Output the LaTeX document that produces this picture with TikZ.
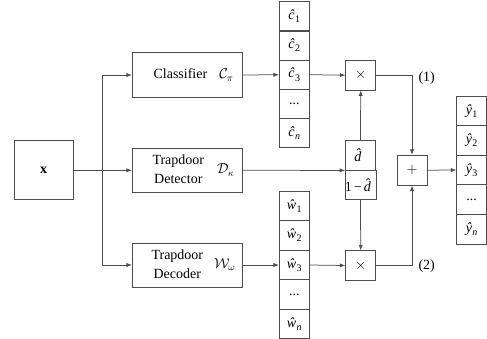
\documentclass[tikz,border=0pt]{standalone}
\usepackage{fontspec}
\setmainfont{Liberation Serif}
\usetikzlibrary{arrows.meta,positioning,calc}
\newcommand{\hv}[2]{\textit{#1}\kern0.3pt\raisebox{-3.2pt}{\fontsize{10}{10}\selectfont #2}}
\newcommand{\twol}[2]{\begin{tabular}{@{}c@{}}#1\\#2\end{tabular}}
\begin{document}
\begin{tikzpicture}[x=1pt,y=1pt,
  box/.style={draw=black!70, line width=0.75pt, inner sep=0pt},
  cell/.style={box, minimum width=30pt, minimum height=29.5pt},
  arr/.style={draw=black!70, line width=0.75pt, -{Latex[length=5.5pt,width=4.2pt]}},
  font=\fontsize{14}{19}\selectfont]
\useasboundingbox (0,0) rectangle (487,-338);
% input
\node[box, minimum width=59pt, minimum height=59pt] (xin) at (43.7,-170.3) {\textbf{x}};
% processing boxes
\node[box, minimum width=110.4pt, minimum height=44.6pt] (cls) at (187.5,-75)
  {\hspace{12pt}Classifier\hspace{12pt}$\mathcal{C}_\pi$};
\node[box, minimum width=110.4pt, minimum height=44pt] (det) at (187.5,-170.3)
  {\hspace{12pt}\twol{Trapdoor}{Detector}\hspace{13pt}$\mathcal{D}_\kappa$};
\node[box, minimum width=110.4pt, minimum height=44pt] (dec) at (187.5,-265)
  {\hspace{12pt}\twol{Trapdoor}{Decoder}\hspace{11pt}$\mathcal{W}_\omega$};
% c column
\node[cell] (c1) at (294.3,-16.3) {\hv{ĉ}{1}};
\node[cell] (c2) at (294.3,-45.5) {\hv{ĉ}{2}};
\node[cell] (c3) at (294.3,-74.7) {\hv{ĉ}{3}};
\node[cell] (c4) at (294.3,-103.9) {...};
\node[cell] (c5) at (294.3,-133.1) {\hv{ĉ}{\textit{n}}};
% w column
\node[cell] (w1) at (294.3,-206) {\hv{ŵ}{1}};
\node[cell] (w2) at (294.3,-235.5) {\hv{ŵ}{2}};
\node[cell] (w3) at (294.3,-265) {\hv{ŵ}{3}};
\node[cell] (w4) at (294.3,-294.5) {...};
\node[cell] (w5) at (294.3,-324) {\hv{ŵ}{\textit{n}}};
% y column
\node[cell, minimum height=29.6pt] (y1) at (471.7,-110.8) {\hv{ŷ}{1}};
\node[cell, minimum height=29.6pt] (y2) at (471.7,-140.4) {\hv{ŷ}{2}};
\node[cell, minimum height=29.6pt] (y3) at (471.7,-170) {\hv{ŷ}{3}};
\node[cell, minimum height=29.6pt] (y4) at (471.7,-199.6) {...};
\node[cell, minimum height=29.6pt] (y5) at (471.7,-229.2) {\hv{ŷ}{\textit{n}}};
% d box
\node[cell, minimum height=29.7pt] (dt) at (360.5,-155.2) {\textit{\^{d}}};
\node[cell, minimum height=29.7pt] (db) at (360.5,-184.9) {1\kern2pt−\kern2pt\textit{\^{d}}};
\coordinate (dmid) at (dt.south west);
% operators
\node[cell] (m1) at (360.7,-75.2) {$\times$};
\node[cell] (m2) at (360.7,-265.5) {$\times$};
\node[cell, minimum height=30pt] (pl) at (412,-170.2) {$+$};
\node (l1) at (426.7,-77.7) {(1)};
\node (l2) at (426.7,-266) {(2)};
% connectors
\coordinate (br) at (102.3,-170.3);
\draw[arr] (xin.east) -- (det.west);
\draw[arr] (br) |- (cls.west);
\draw[arr] (br) |- (dec.west);
\draw[arr] (cls.east) -- (c3.west);
\draw[arr] (c3.east) -- (m1.west);
\draw[arr] (m1.east) -| (pl.north);
\draw[arr] (det.east) -- (dmid);
\draw[arr] (dt.north) -- (m1.south);
\draw[arr] (db.south) -- (m2.north);
\draw[arr] (dec.east) -- (w3.west);
\draw[arr] (w3.east) -- (m2.west);
\draw[arr] (m2.east) -| (pl.south);
\draw[arr] (pl.east) -- (y3.west);
\end{tikzpicture}
\end{document}
